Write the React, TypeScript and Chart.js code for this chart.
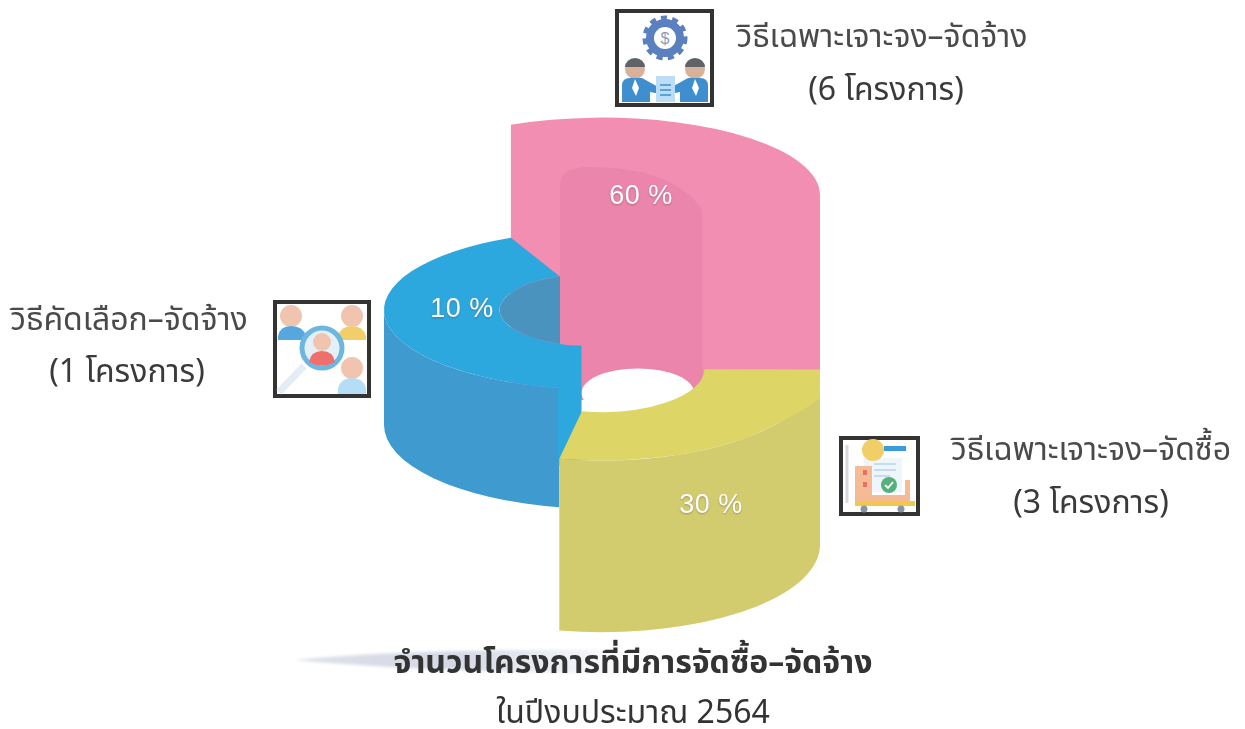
import React, { useEffect, useRef } from "react";
import { Chart, registerables } from "chart.js";

Chart.register(...registerables);

// Slices in drawing order of the doughnut ring.
const categories = ["วิธีเฉพาะเจาะจง–จัดจ้าง", "วิธีเฉพาะเจาะจง–จัดซื้อ", "วิธีคัดเลือก–จัดจ้าง"];
const projectCounts = [6, 3, 1];
const percentValues = [60, 30, 10];
// The reference does not draw its slices in proportion to the percentages:
// these are the arc sizes (degrees) as actually seen in the picture.
const drawnArcDegrees = [115, 101, 144];
const titleLines = ["จำนวนโครงการที่มีการจัดซื้อ–จัดจ้าง", "ในปีงบประมาณ 2564"];

const THAI_FONT = '"Noto Sans Thai", "Noto Sans Thai UI", Loma, Garuda, "Liberation Sans", "DejaVu Sans", "Noto Sans", sans-serif';

const sliceLook = [
  { topY: 195, tilt: 0.355, height: 205, face: "#F18EB1", wall: "#F18EB1", label: [641, 197] },
  { topY: 369, tilt: 0.42, height: 176, bottomTilt: 0.4, face: "#DDD566", wall: "#D3CC6F", label: [711, 506] },
  { topY: 310, tilt: 0.365, height: 115, bottomTilt: 0.385, face: "#2CA8DE", wall: "#3F9AD0", label: [462, 310] },
];

const projected = (ctx: CanvasRenderingContext2D, arc: any, cy: number, k: number, fn: () => void) => {
  ctx.save();
  ctx.translate(0, cy);
  ctx.scale(1, k);
  ctx.translate(0, -arc.y);
  fn();
  ctx.restore();
};

// Front-facing part of the outer wall: only angles between 0 and 180 degrees face the viewer.
const wallPath = (ctx: CanvasRenderingContext2D, arc: any, look: any) => {
  const R = arc.outerRadius;
  const from = Math.max(arc.startAngle, 0);
  const to = Math.min(arc.endAngle, Math.PI);
  ctx.beginPath();
  ctx.ellipse(arc.x, look.topY, R, R * look.tilt, 0, from, to);
  ctx.ellipse(arc.x, look.topY + look.height, R, R * (look.bottomTilt ?? look.tilt), 0, to, from, true);
  ctx.closePath();
};

const ring3d = {
  id: "ring3d",
  beforeDatasetsDraw(chart: any) {
    const ctx: CanvasRenderingContext2D = chart.ctx;
    const arcs = chart.getDatasetMeta(0).data;
    const [pink, yellow, blue] = arcs;
    const [pinkLook, yellowLook, blueLook] = sliceLook;
    const R = pink.outerRadius;
    const r = pink.innerRadius;
    const cx = pink.x;

    // Pink: one tall curved block
    ctx.fillStyle = pinkLook.wall;
    const px0 = cx + R * Math.cos(pink.startAngle);
    const px1 = cx + R * Math.cos(pink.endAngle);
    const pinkBase = pinkLook.topY + pinkLook.height;
    ctx.beginPath();
    ctx.ellipse(cx, pinkLook.topY, R, R * pinkLook.tilt, 0, pink.startAngle, pink.endAngle);
    ctx.lineTo(px1, pinkBase);
    ctx.lineTo(px0, pinkBase);
    ctx.closePath();
    ctx.fill();

    // Pink: darker inner wall
    ctx.fillStyle = "rgba(222,104,156,0.24)";
    const dx0 = cx - r * 0.41;
    const dx1 = cx + r * 0.98;
    ctx.beginPath();
    ctx.moveTo(dx0, pinkBase);
    ctx.lineTo(dx0, pinkLook.topY - 10);
    ctx.quadraticCurveTo(dx0, pinkLook.topY - 28, dx0 + 30, pinkLook.topY - 28);
    ctx.quadraticCurveTo(dx1 - 30, pinkLook.topY - 28, dx1, pinkLook.topY + 15);
    ctx.lineTo(dx1, pinkBase);
    ctx.closePath();
    ctx.fill();

    // Hole seen through the ring
    ctx.fillStyle = "#FFFFFF";
    ctx.beginPath();
    ctx.ellipse(cx + r * 0.35, yellowLook.topY + 24, r * 0.55, r * 0.24, 0, 0, Math.PI * 2);
    ctx.fill();

    // Blue wall, face, inner wall and front strip
    const notchX = cx - r * 0.2;
    const innerX = cx - r * 0.41;
    ctx.fillStyle = blueLook.wall;
    wallPath(ctx, blue, blueLook);
    ctx.fill();
    projected(ctx, blue, blueLook.topY, blueLook.tilt, () => blue.draw(ctx));
    ctx.fillStyle = blueLook.face;
    const stripTop = blueLook.topY + r * blueLook.tilt * 0.95;
    ctx.fillRect(innerX - 2, stripTop, notchX - innerX + 2, 120);
    ctx.save();
    ctx.beginPath();
    ctx.rect(0, 0, innerX, 729);
    ctx.clip();
    ctx.fillStyle = "#4A93BF";
    ctx.beginPath();
    ctx.ellipse(cx, blueLook.topY, r, r * blueLook.tilt, 0, 0, Math.PI * 2);
    ctx.fill();
    ctx.restore();

    // Yellow wall and face
    ctx.fillStyle = yellowLook.wall;
    wallPath(ctx, yellow, yellowLook);
    ctx.fill();
    projected(ctx, yellow, yellowLook.topY, yellowLook.tilt, () => yellow.draw(ctx));
    // The lit face runs a little lower at the far right edge
    ctx.fillStyle = yellowLook.face;
    ctx.beginPath();
    ctx.moveTo(cx + R, yellowLook.topY);
    ctx.lineTo(cx + R, yellowLook.topY + 29);
    ctx.quadraticCurveTo(cx + R - 18, yellowLook.topY + 44, cx + R - 42, yellowLook.topY + 53);
    ctx.closePath();
    ctx.fill();

    // Percent labels
    ctx.font = '27px "Liberation Sans", Arial, sans-serif';
    (ctx as any).letterSpacing = "0.5px";
    ctx.textAlign = "center";
    ctx.textBaseline = "middle";
    ctx.shadowColor = "rgba(90,70,70,0.45)";
    ctx.shadowBlur = 2;
    ctx.shadowOffsetY = 1;
    ctx.fillStyle = "#FFFFFF";
    percentValues.forEach((v, i) => {
      const [lx, ly] = sliceLook[i].label;
      ctx.fillText(`${v} %`, lx, ly);
    });
    ctx.shadowColor = "transparent";
    (ctx as any).letterSpacing = "0px";
    return false;
  },
};

const textStyle = (x: number, y: number, size: number, color: string, weight = 400): React.CSSProperties => ({
  position: "absolute",
  left: x - 300,
  top: y - 30,
  width: 600,
  height: 60,
  lineHeight: "60px",
  textAlign: "center",
  fontFamily: THAI_FONT,
  fontSize: size,
  color,
  fontWeight: weight,
  whiteSpace: "nowrap",
});

const Frame = ({ x, y, w, h }: { x: number; y: number; w: number; h: number }) => (
  <rect x={x + 2} y={y + 2} width={w - 4} height={h - 4} fill="#FFFFFF" stroke="#333333" strokeWidth={4} />
);

const Icons = () => (
  <svg width={1245} height={729} style={{ position: "absolute", left: 0, top: 0 }}>
    <defs>
      <linearGradient id="swoosh" x1="0" x2="1" y1="0" y2="0">
        <stop offset="0" stopColor="#DDE1EA" />
        <stop offset="0.45" stopColor="#D3D8E4" />
        <stop offset="1" stopColor="#FFFFFF" />
      </linearGradient>
      <filter id="soft"><feGaussianBlur stdDeviation="1.5" /></filter>
    </defs>
    <path d="M294 660 Q420 648 640 650 L640 674 Q420 672 294 660Z" fill="url(#swoosh)" filter="url(#soft)" />
    <Frame x={615} y={9} w={99} h={98} />
    <circle cx={665} cy={38} r={15} fill="none" stroke="#5B80C0" strokeWidth={8} />
    <circle cx={665} cy={38} r={20} fill="none" stroke="#5B80C0" strokeWidth={5} strokeDasharray="6 5.2" />
    <text x={665} y={44} textAnchor="middle" fontFamily="Liberation Sans" fontSize={16} fill="#8A9DB8">$</text>
    <circle cx={635} cy={69} r={10} fill="#D9B199" />
    <path d="M625 67 A10 9 0 0 1 645 67Z" fill="#5F6266" />
    <circle cx={695} cy={69} r={10} fill="#D9B199" />
    <path d="M685 67 A10 9 0 0 1 705 67Z" fill="#5F6266" />
    <path d="M622 102 V86 Q622 78 630 78 H642 L660 88 V94 L650 92 V102Z" fill="#3E8ED0" />
    <path d="M708 102 V86 Q708 78 700 78 H688 L670 88 V94 L680 92 V102Z" fill="#3E8ED0" />
    <path d="M635 79 L632 88 L636 96 L639 88Z M695 79 L692 88 L696 96 L699 88Z" fill="#FFFFFF" />
    <rect x={656} y={76} width={19} height={26} fill="#BBDDF5" />
    <path d="M660 85H671M660 90H671M660 95H671" stroke="#3E8ED0" strokeWidth={1.6} />

    <Frame x={273} y={300} w={98} h={98} />
    <path d="M279 392 L304 366" stroke="#E4ECF7" strokeWidth={7} />
    <circle cx={291} cy={316} r={11} fill="#F1C4AF" />
    <path d="M278 340 V336 Q280 326 291 326 Q303 326 306 336 V340Z" fill="#56A7DD" />
    <circle cx={352} cy={316} r={11} fill="#F1C4AF" />
    <path d="M338 340 V336 Q341 326 352 326 Q363 326 366 336 V340Z" fill="#F2CE6A" />
    <circle cx={352} cy={368} r={11} fill="#F1C4AF" />
    <path d="M338 394 V388 Q341 378 352 378 Q363 378 366 388 V394Z" fill="#B5DDF5" />
    <circle cx={322} cy={348} r={20} fill="#E4F0F8" stroke="#6DB6E0" strokeWidth={5} />
    <circle cx={322} cy={342} r={9} fill="#F1C4AF" />
    <path d="M309 362 Q311 351 322 351 Q333 351 335 362 Q322 369 309 362Z" fill="#EE6F6B" />

    <Frame x={839} y={436} w={81} h={80} />
    <path d="M847 445 V503" stroke="#D5D9DE" strokeWidth={3} />
    <rect x={864} y={458} width={38} height={34} fill="#EEF5FB" />
    <path d="M874 464H896M874 470H896M874 476H890" stroke="#B7D4EC" strokeWidth={1.5} />
    <circle cx={873} cy={450} r={11} fill="#F2CF66" />
    <rect x={884} y={446} width={22} height={5} fill="#3C9BDB" />
    <path d="M855 466 H872 V495 H905 V480 H910 V503 H855Z" fill="#F4BB94" />
    <rect x={863} y={470} width={4} height={5} fill="#E8706B" />
    <rect x={863} y={482} width={4} height={5} fill="#E8706B" />
    <circle cx={889} cy={485} r={8} fill="#55B07A" />
    <path d="M885 485 L888 488 L893 482" stroke="#FFFFFF" strokeWidth={1.8} fill="none" />
    <rect x={855} y={501} width={60} height={5} fill="#F0C84E" />
    <circle cx={864} cy={509} r={3.5} fill="#8A93A0" />
    <circle cx={901} cy={509} r={3.5} fill="#8A93A0" />
  </svg>
);

export default function App() {
  const ref = useRef<HTMLCanvasElement>(null);
  useEffect(() => {
    const chart = new Chart(ref.current as HTMLCanvasElement, {
      type: "doughnut",
      data: {
        labels: categories,
        datasets: [
          {
            data: drawnArcDegrees,
            backgroundColor: sliceLook.map((s) => s.face),
            borderWidth: 0,
          },
        ],
      },
      options: {
        animation: false,
        responsive: false,
        rotation: -24.7,
        cutout: "47%",
        layout: { padding: { left: 384, right: 425, top: 0, bottom: 0 } },
        plugins: { legend: { display: false }, tooltip: { enabled: false } },
      },
      plugins: [ring3d],
    });
    return () => chart.destroy();
  }, []);

  return (
    <div style={{ position: "fixed", left: 0, top: 0, width: 1245, height: 729, background: "#FFFFFF", overflow: "hidden" }}>
      <Icons />
      <canvas ref={ref} width={1245} height={729} style={{ position: "absolute", left: 0, top: 0 }} />
      <div style={textStyle(882, 37, 32, "#4A4A4A")}>{categories[0]}</div>
      <div style={textStyle(886, 90, 32, "#3A3A3A")}>{`(${projectCounts[0]} โครงการ)`}</div>
      <div style={textStyle(1091, 450, 32, "#4A4A4A")}>{categories[1]}</div>
      <div style={textStyle(1091, 503, 32, "#3A3A3A")}>{`(${projectCounts[1]} โครงการ)`}</div>
      <div style={textStyle(129, 320, 32, "#4A4A4A")}>{categories[2]}</div>
      <div style={textStyle(127, 372, 32, "#3A3A3A")}>{`(${projectCounts[2]} โครงการ)`}</div>
      <div style={textStyle(633, 663, 32, "#333333", 700)}>{titleLines[0]}</div>
      <div style={textStyle(633, 713, 32, "#333333")}>{titleLines[1]}</div>
    </div>
  );
}
